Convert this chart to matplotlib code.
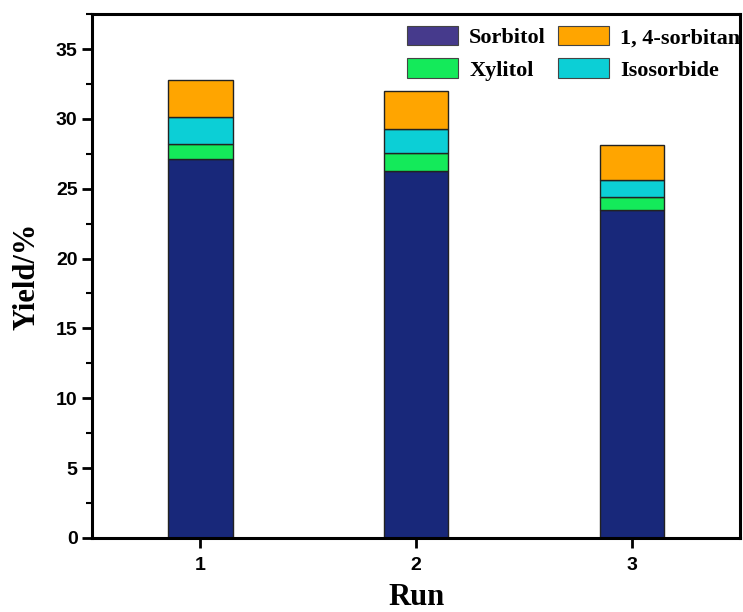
import numpy as np
import matplotlib
matplotlib.use("Agg")
import matplotlib.pyplot as plt
from matplotlib.patches import Patch
from matplotlib.ticker import MultipleLocator

runs = [1, 2, 3]
sorbitol = [27.1, 26.25, 23.5]
xylitol = [1.1, 1.3, 0.9]
isosorbide = [1.9, 1.75, 1.2]
sorbitan = [2.7, 2.7, 2.5]

c_sorb = '#18287a'
c_sorb_leg = '#463a8c'
c_xyl = '#14ea5a'
c_iso = '#0ccfd6'
c_stan = '#ffa500'

fig = plt.figure(figsize=(7.43, 6.12), dpi=100)
ax = fig.add_axes([0.124, 0.121, 0.872, 0.856])

w = 0.3
ek = dict(edgecolor='#222222', linewidth=1.0)
b1 = np.array(sorbitol)
b2 = b1 + np.array(xylitol)
b3 = b2 + np.array(isosorbide)
ax.bar(runs, sorbitol, w, color=c_sorb, **ek)
ax.bar(runs, xylitol, w, bottom=b1, color=c_xyl, **ek)
ax.bar(runs, isosorbide, w, bottom=b2, color=c_iso, **ek)
ax.bar(runs, sorbitan, w, bottom=b3, color=c_stan, **ek)

ax.set_xlim(0.5, 3.5)
ax.set_ylim(0, 37.5)
ax.set_xticks(runs)
ax.yaxis.set_major_locator(MultipleLocator(5))
ax.yaxis.set_minor_locator(MultipleLocator(2.5))
ax.tick_params(axis='both', which='major', direction='out', length=7, width=2, labelsize=14)
ax.tick_params(axis='x', which='major', pad=7)
ax.tick_params(axis='y', which='minor', direction='out', length=4, width=1.5)
for lab in ax.get_xticklabels() + ax.get_yticklabels():
    lab.set_fontfamily('Liberation Sans')
    lab.set_fontweight('bold')
for s in ax.spines.values():
    s.set_linewidth(2.2)

ax.set_xlabel('Run', fontsize=22, fontweight='bold', family='Liberation Serif', labelpad=6)
ax.set_ylabel('Yield/%', fontsize=22, fontweight='bold', family='Liberation Serif', labelpad=10)

handles = [Patch(facecolor=c_sorb_leg, edgecolor='#444444', linewidth=0.8),
           Patch(facecolor=c_xyl, edgecolor='#444444', linewidth=0.8),
           Patch(facecolor=c_stan, edgecolor='#444444', linewidth=0.8),
           Patch(facecolor=c_iso, edgecolor='#444444', linewidth=0.8)]
labels = ['Sorbitol', 'Xylitol', '1, 4-sorbitan', 'Isosorbide']
leg = ax.legend(handles, labels, ncol=2, frameon=False, loc='upper left',
                bbox_to_anchor=(0.455, 1.015), handlelength=2.3, handleheight=0.95,
                columnspacing=0.55, handletextpad=0.5, labelspacing=0.45,
                prop={'family': 'Liberation Serif', 'weight': 'bold', 'size': 16})
leg.set_clip_on(False)

fig.savefig('out.png', dpi=100)
